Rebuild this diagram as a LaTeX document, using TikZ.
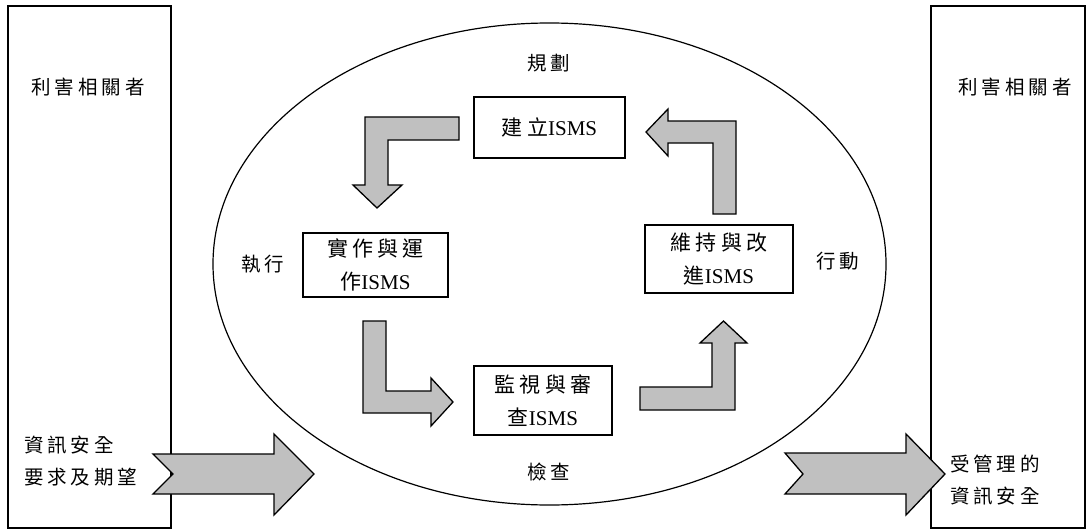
\documentclass[tikz,border=0pt]{standalone}
\usepackage{fontspec}
\setmainfont{Liberation Serif}
\newfontfamily\cjk[LetterSpace=20]{Noto Sans CJK TC}
\definecolor{arrowgray}{RGB}{192,192,192}
\tikzset{
  frame/.style={draw, line width=1.4pt, inner sep=0pt},
  stagebox/.style={draw, line width=1.6pt, align=center, inner sep=0pt,
    font=\fontsize{21}{33}\selectfont},
  blockarrow/.style={draw, line width=1.3pt, fill=arrowgray, line join=miter},
  lbl/.style={inner sep=0pt, font=\fontsize{19.5}{32}\selectfont\cjk, align=left},
}
\begin{document}
\begin{tikzpicture}[x=1pt,y=-1pt]
\useasboundingbox (0,0) rectangle (1091,532);
% side frames
\node[frame, minimum width=163pt, minimum height=522pt] (lframe) at (89.5,267) {};
\node[frame, minimum width=154pt, minimum height=522pt] (rframe) at (1008,267) {};
% ellipse
\draw[line width=1.2pt] (549.5,264) ellipse [x radius=336.5, y radius=241];
% stage boxes
\node[stagebox, minimum width=151pt, minimum height=61pt] (plan) at (549.5,127.5) {{\cjk 建立}ISMS};
\node[stagebox, minimum width=145pt, minimum height=64pt] (do) at (375.5,265) {{\cjk 實作與運}\\{\cjk 作}ISMS};
\node[stagebox, minimum width=148pt, minimum height=68pt] (act) at (719,259) {{\cjk 維持與改}\\{\cjk 進}ISMS};
\node[stagebox, minimum width=138pt, minimum height=69pt] (check) at (543,400.5) {{\cjk 監視與審}\\{\cjk 查}ISMS};
% labels
\node[lbl] (lstake) at (88,87) {利害相關者};
\node[lbl] (rstake) at (1015,87) {利害相關者};
\node[lbl, anchor=west] (req) at (24,461) {資訊安全\\要求及期望};
\node[lbl, anchor=west] (managed) at (950,480) {受管理的\\資訊安全};
\node[lbl] (lplan) at (549,63) {規劃};
\node[lbl] (ldo) at (263,264) {執行};
\node[lbl] (lact) at (838,261) {行動};
\node[lbl] (lcheck) at (549,472) {檢查};
% cycle arrows
\draw[blockarrow] (459,117) -- (365,117) -- (365,185) -- (353,185) -- (377,208) -- (402,185) -- (388,185) -- (388,140) -- (459,140) -- cycle;
\draw[blockarrow] (736,214) -- (736,121) -- (668,121) -- (668,109) -- (646,132) -- (668,156) -- (668,143) -- (713,143) -- (713,214) -- cycle;
\draw[blockarrow] (363,321) -- (363,413) -- (431,413) -- (431,426) -- (453,402) -- (431,378) -- (431,391) -- (386,391) -- (386,321) -- cycle;
\draw[blockarrow] (640,387) -- (640,410) -- (735,410) -- (735,343) -- (747,343) -- (723.5,321) -- (700,343) -- (712,343) -- (712,387) -- cycle;
% big arrows
\draw[blockarrow] (153,454) -- (274,454) -- (274,434) -- (314,474) -- (274,515) -- (274,494) -- (153,494) -- (173,474) -- cycle;
\draw[blockarrow] (785,453) -- (906,453) -- (906,434) -- (945,474) -- (906,515) -- (906,494) -- (785,494) -- (803,474) -- cycle;
\end{tikzpicture}
\end{document}
